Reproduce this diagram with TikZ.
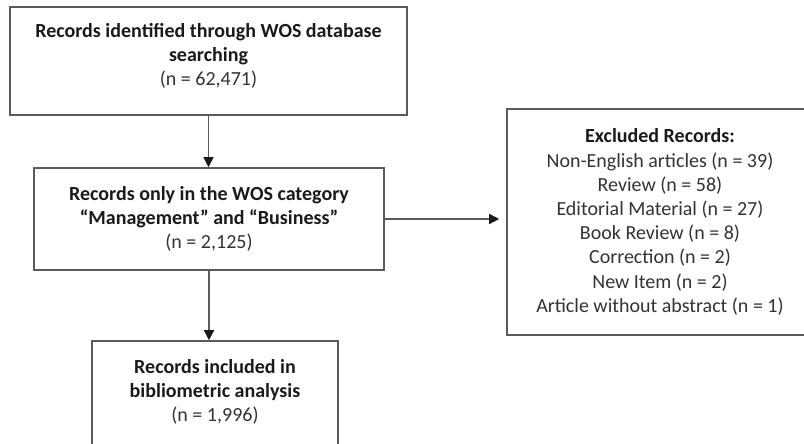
\documentclass[tikz,border=0pt]{standalone}
\usepackage{fontspec}
\setmainfont{Carlito}
\usetikzlibrary{arrows.meta}
\definecolor{linegray}{HTML}{5A5A5A}
\definecolor{boldink}{HTML}{1A1A1A}
\definecolor{plainink}{HTML}{333333}
\begin{document}
\begin{tikzpicture}[x=1pt,y=-1pt,
  box/.style={draw=linegray, line width=1.6pt, fill=white, inner sep=0pt,
    align=center, text=plainink, font=\fontsize{20}{24.2}\selectfont},
  txt/.style={inner sep=0pt, align=center, text=plainink,
    font=\fontsize{20}{24}\selectfont},
  arr/.style={draw=linegray, line width=1.4pt,
    -{Triangle[length=10pt,width=10pt,color=boldink]}}]
\useasboundingbox (0,0) rectangle (804,444);
\clip (0,0) rectangle (804,444);

% boxes
\node[box, minimum width=397pt, minimum height=108pt] (b1) at (208.5,61) {};
\node[txt] (t1) at (208.5,55.5)
  {\textcolor{boldink}{\textbf{Records identified through WOS database}}\\
   \textcolor{boldink}{\textbf{searching}}\\(n = 62,471)};

\node[box, minimum width=350pt, minimum height=102pt] (b2) at (209,219)
  {\textcolor{boldink}{\textbf{Records only in the WOS category}}\\
   \textcolor{boldink}{\textbf{“Management” and “Business”}}\\(n = 2,125)};

\node[box, minimum width=246pt, minimum height=119pt] (b3) at (215,400.5) {};
\node[txt] (t3) at (215,392)
  {\textcolor{boldink}{\textbf{Records included in}}\\
   \textcolor{boldink}{\textbf{bibliometric analysis}}\\(n = 1,996)};

\node[box, minimum width=306pt, minimum height=226pt] (b4) at (660,222)
  {\textcolor{boldink}{\textbf{Excluded Records:}}\\
   Non-English articles (n = 39)\\
   Review (n = 58)\\
   Editorial Material (n = 27)\\
   Book Review (n = 8)\\
   Correction (n = 2)\\
   New Item (n = 2)\\
   Article without abstract (n = 1)};

% connectors
\draw[arr] (b1.south) -- (b1.south |- b2.north);
\draw[arr] (b2.south) -- (b2.south |- b3.north);
\draw[arr, shorten >=7pt] (b2.east) -- (b2.east -| b4.west);
\end{tikzpicture}
\end{document}
